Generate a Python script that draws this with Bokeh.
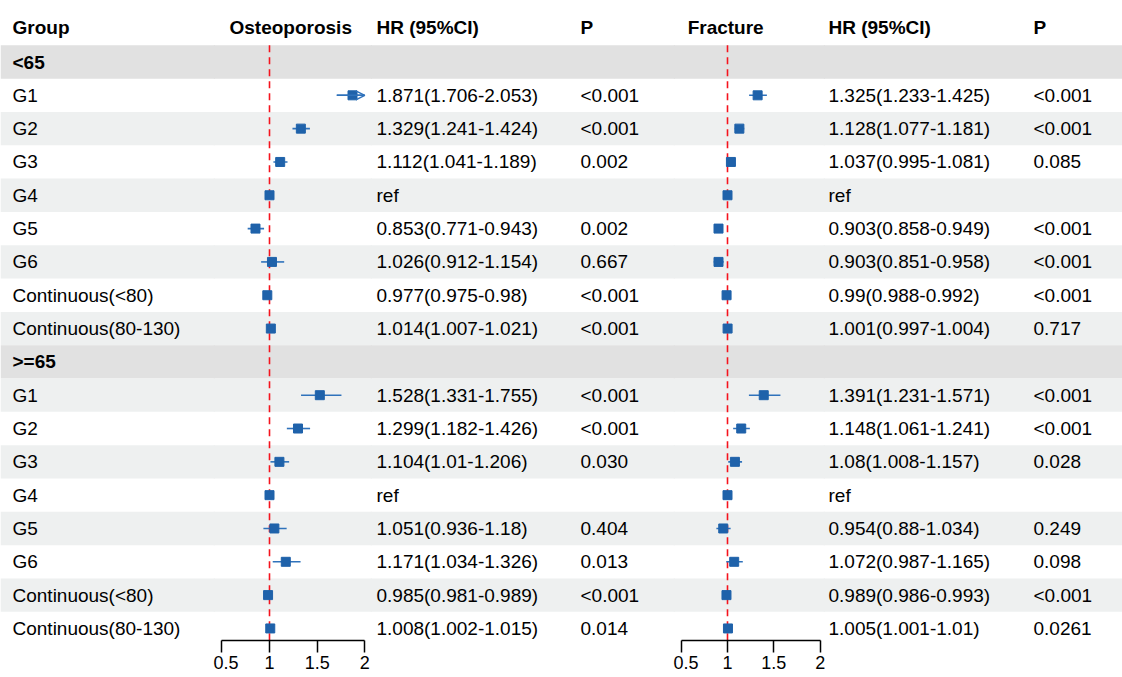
import math
from bokeh.plotting import figure
from bokeh.layouts import row
from bokeh.models import (Range1d, LinearAxis, FixedTicker, ColumnDataSource,
                          Arrow, OpenHead)
from bokeh.core.properties import value
from bokeh.embed import file_html
from bokeh.resources import INLINE

# ---------------- data ----------------
sections = ["<65", ">=65"]
groups = ["G1", "G2", "G3", "G4", "G5", "G6", "Continuous(<80)", "Continuous(80-130)"]
ref_group = "G4"
ref_hr = 1.0
nan = float("nan")

osteo_hr_lt65 = [1.871, 1.329, 1.112, 1.0, 0.853, 1.026, 0.977, 1.014]
osteo_lo_lt65 = [1.706, 1.241, 1.041, nan, 0.771, 0.912, 0.975, 1.007]
osteo_hi_lt65 = [2.053, 1.424, 1.189, nan, 0.943, 1.154, 0.98, 1.021]
osteo_p_lt65 = ["<0.001", "<0.001", "0.002", "", "0.002", "0.667", "<0.001", "<0.001"]

osteo_hr_ge65 = [1.528, 1.299, 1.104, 1.0, 1.051, 1.171, 0.985, 1.008]
osteo_lo_ge65 = [1.331, 1.182, 1.01, nan, 0.936, 1.034, 0.981, 1.002]
osteo_hi_ge65 = [1.755, 1.426, 1.206, nan, 1.18, 1.326, 0.989, 1.015]
osteo_p_ge65 = ["<0.001", "<0.001", "0.030", "", "0.404", "0.013", "<0.001", "0.014"]

frac_hr_lt65 = [1.325, 1.128, 1.037, 1.0, 0.903, 0.903, 0.99, 1.001]
frac_lo_lt65 = [1.233, 1.077, 0.995, nan, 0.858, 0.851, 0.988, 0.997]
frac_hi_lt65 = [1.425, 1.181, 1.081, nan, 0.949, 0.958, 0.992, 1.004]
frac_p_lt65 = ["<0.001", "<0.001", "0.085", "", "<0.001", "<0.001", "<0.001", "0.717"]

frac_hr_ge65 = [1.391, 1.148, 1.08, 1.0, 0.954, 1.072, 0.989, 1.005]
frac_lo_ge65 = [1.231, 1.061, 1.008, nan, 0.88, 0.987, 0.986, 1.001]
frac_hi_ge65 = [1.571, 1.241, 1.157, nan, 1.034, 1.165, 0.993, 1.01]
frac_p_ge65 = ["<0.001", "<0.001", "0.028", "", "0.249", "0.098", "<0.001", "0.0261"]

tick_values = [0.5, 1, 1.5, 2]
tick_labels = ["0.5", "1", "1.5", "2"]

column_titles = {"group": "Group", "osteo": "Osteoporosis", "frac": "Fracture",
                 "hr": "HR (95%CI)", "p": "P"}

# ---------------- build table ----------------
def build(hr_a, lo_a, hi_a, p_a, hr_b, lo_b, hi_b, p_b):
    rows = {"y": [], "hr": [], "lo": [], "hi": [], "txt": [], "p": []}
    y = 0
    for hr_l, lo_l, hi_l, p_l in ((hr_a, lo_a, hi_a, p_a), (hr_b, lo_b, hi_b, p_b)):
        y += 1  # header row
        for g, h, l, u, pv in zip(groups, hr_l, lo_l, hi_l, p_l):
            rows["y"].append(y)
            rows["hr"].append(h)
            rows["lo"].append(l)
            rows["hi"].append(u)
            rows["txt"].append("ref" if g == ref_group else f"{h}({l}-{u})")
            rows["p"].append(pv)
            y += 1
    return rows

osteo = build(osteo_hr_lt65, osteo_lo_lt65, osteo_hi_lt65, osteo_p_lt65,
              osteo_hr_ge65, osteo_lo_ge65, osteo_hi_ge65, osteo_p_ge65)
frac = build(frac_hr_lt65, frac_lo_lt65, frac_hi_lt65, frac_p_lt65,
             frac_hr_ge65, frac_lo_ge65, frac_hi_ge65, frac_p_ge65)

labels, label_y, header_y, header_lab = [], [], [], []
yy = 0
for s in sections:
    header_y.append(yy); header_lab.append(s); yy += 1
    for g in groups:
        labels.append(g); label_y.append(yy); yy += 1
n_rows = yy

# ---------------- styling ----------------
FONT = "Liberation Sans"
FS = "19px"
PITCH = 33.32
FH = 640
OV = 2  # px overlap between neighbouring panels (hides seams)
top = -61.5 / PITCH
y_range = Range1d(start=top + FH / PITCH, end=top)

HEAD_BG = "#e1e1e1"
STRIPE_BG = "#eef0f0"
BLUE = "#1f62aa"
LINE_BLUE = "#2f72bb"
RED = "#f5131d"


def base_fig(width, xs, xe, first=False):
    p = figure(frame_width=width, frame_height=FH, x_range=Range1d(xs, xe),
               y_range=y_range, output_backend="svg", toolbar_location=None,
               x_axis_type=None, y_axis_type=None, min_border=0,
               background_fill_alpha=0, border_fill_alpha=0,
               margin=(0, 0, 0, 0) if first else (0, 0, 0, -OV))
    p.outline_line_color = None
    by, bc = [], []
    for i in range(n_rows):
        if i in header_y:
            by.append(i); bc.append(HEAD_BG)
        elif i % 2 == 0:
            by.append(i); bc.append(STRIPE_BG)
    span = xe - xs
    p.hbar(y=by, height=1, left=xs - span, right=xe + span, fill_color=bc, line_color=None)
    return p


def add_text(p, x, y, txt, bold=False, align="left"):
    p.text(x=x, y=y, text=txt, text_font=value(FONT), text_font_size=value(FS),
           text_baseline="middle", text_align=align, text_color="black",
           text_font_style="bold" if bold else "normal")


# Group column (pixels 0-215)
pg = base_fig(215, 0, 215, first=True)
add_text(pg, [12], [-1.05], [column_titles["group"]], bold=True)
add_text(pg, [12] * len(header_y), header_y, header_lab, bold=True)
add_text(pg, [12] * len(labels), label_y, labels)


def forest(width, one_px, ppu, data, title, title_x):
    # one_px: pixel offset of HR = 1 from the panel's nominal left edge
    xs = 1 - (one_px + OV) / ppu
    xe = xs + (width + OV) / ppu
    p = base_fig(width + OV, xs, xe)
    add_text(p, [title_x], [-1.05], [title], bold=True)
    p.segment(x0=ref_hr, y0=-0.5, x1=ref_hr, y1=n_rows + 1, line_color=RED,
              line_width=1.6, line_dash="7 5")
    xmax = max(tick_values)
    hi_clip = [min(h, xmax) for h in data["hi"]]
    src = ColumnDataSource(dict(y=data["y"], hr=data["hr"], lo=data["lo"], hi=hi_clip))
    p.segment(x0="lo", y0="y", x1="hi", y1="y", source=src, line_color=LINE_BLUE,
              line_width=1.6)
    p.scatter(x="hr", y="y", source=src, marker="square", size=9,
              fill_color=BLUE, line_color=BLUE)
    arr = [(l, y) for l, h, y in zip(data["lo"], data["hi"], data["y"])
           if not math.isnan(h) and h > xmax]
    if arr:
        asrc = ColumnDataSource(dict(x0=[a[0] for a in arr], x1=[xmax] * len(arr),
                                     y=[a[1] for a in arr]))
        p.add_layout(Arrow(end=OpenHead(size=9, line_color=LINE_BLUE, line_width=1.4),
                           x_start="x0", y_start="y", x_end="x1", y_end="y",
                           line_color=LINE_BLUE, line_width=1.6, source=asrc))
    ax = LinearAxis(ticker=FixedTicker(ticks=tick_values),
                    bounds=(min(tick_values), max(tick_values)),
                    major_label_overrides={v: l for v, l in zip(tick_values, tick_labels)},
                    axis_line_width=1.5, axis_line_color="black",
                    major_tick_line_width=1.5, major_tick_line_color="black",
                    major_tick_out=12, major_tick_in=0,
                    minor_tick_line_color=None,
                    major_label_text_font=FONT, major_label_text_font_size="18px",
                    major_label_text_color="black", major_label_standoff=3)
    p.add_layout(ax, "below")
    return p


def text_cols(width, hr_x, p_x, data):
    p = base_fig(width + OV, -OV, width)
    add_text(p, [hr_x, p_x], [-1.05, -1.05], [column_titles["hr"], column_titles["p"]], bold=True)
    add_text(p, [hr_x] * len(data["y"]), data["y"], data["txt"])
    add_text(p, [p_x] * len(data["y"]), data["y"], data["p"])
    return p


po = forest(157, 54, 95.3, osteo, column_titles["osteo"], 0.58)      # pixels 215-372
pto = text_cols(303, 4, 208, osteo)                                   # pixels 372-675
pf = forest(150, 52, 92.7, frac, column_titles["frac"], 0.57)        # pixels 675-825
ptf = text_cols(297, 3, 208, frac)                                    # pixels 825-1122

layout = row(pg, po, pto, pf, ptf, spacing=0)
open("out.html", "w").write(file_html(layout, INLINE))
